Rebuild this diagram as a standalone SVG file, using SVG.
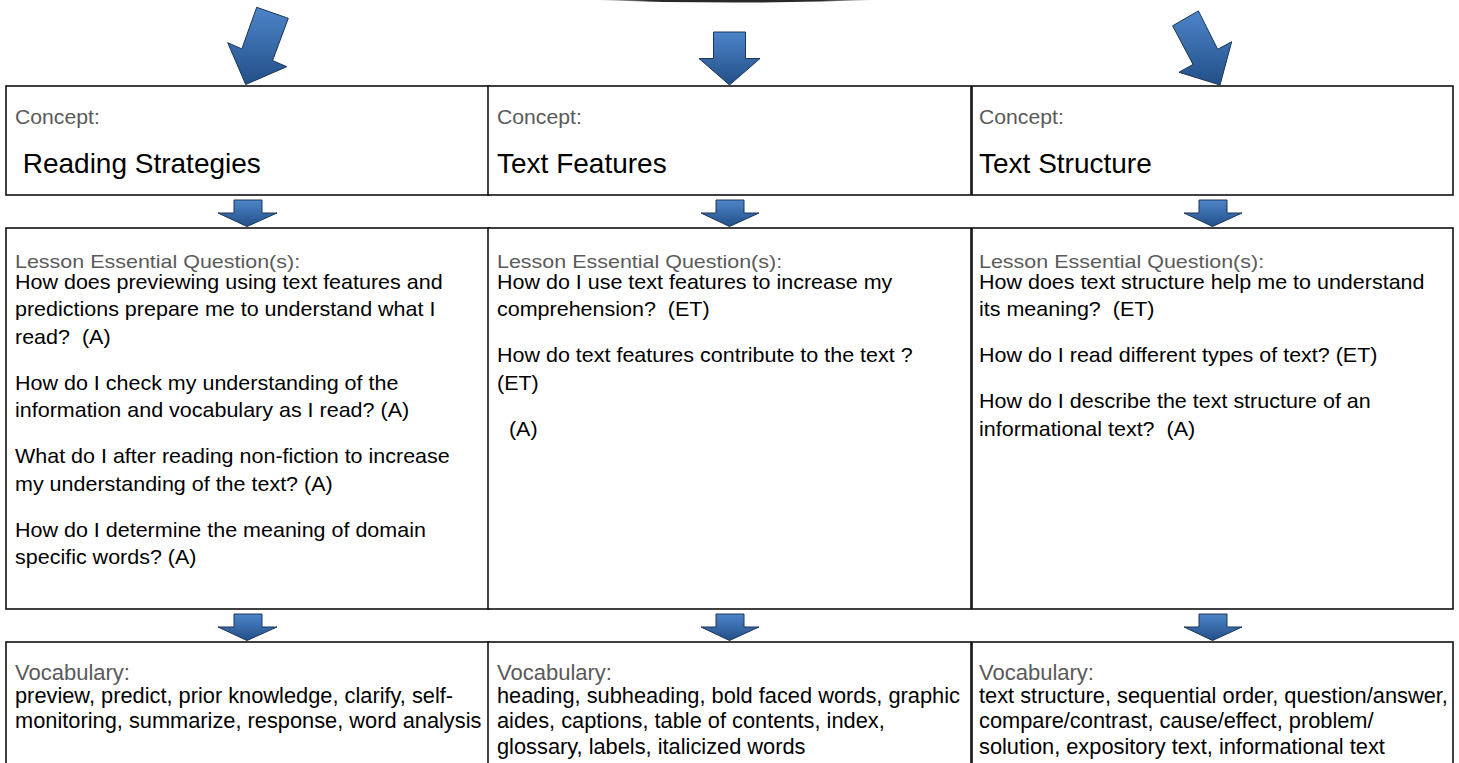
<svg xmlns="http://www.w3.org/2000/svg" width="1459" height="763" viewBox="0 0 1459 763" xml:space="preserve">
<defs>
<linearGradient id="ag" x1="0" y1="0" x2="0" y2="1">
<stop offset="0" stop-color="#4d85c9"/>
<stop offset="1" stop-color="#224f88"/>
</linearGradient>
<linearGradient id="sh" x1="0" y1="0" x2="1" y2="0">
<stop offset="0" stop-color="#000" stop-opacity="0"/>
<stop offset="0.2" stop-color="#111" stop-opacity="0.9"/>
<stop offset="0.8" stop-color="#111" stop-opacity="0.9"/>
<stop offset="1" stop-color="#000" stop-opacity="0"/>
</linearGradient>
</defs>
<style>
.box{fill:#fff;stroke:#111;stroke-width:1.6}
.arr{fill:url(#ag);stroke:#1b3556;stroke-width:1}
text{font-family:"Liberation Sans",Arial,sans-serif;white-space:pre}
.lab{fill:#5a5a5a;font-size:20px}
.ttl{fill:#000;font-size:28px}
.lq{fill:#5a5a5a;font-size:19px}
.bd{fill:#000;font-size:20px}
.vl{fill:#5a5a5a;font-size:22px}
.vb{fill:#000;font-size:21.8px}
</style>
<rect width="1459" height="763" fill="#fff"/>
<path d="M593,0 Q735,5 878,0 Z" fill="url(#sh)"/>

<g id="concept-reading">
<rect class="box" x="6" y="86" width="483" height="109"/>
<text class="lab" transform="translate(15,124) scale(1.06,1)">Concept:</text>
<text class="ttl" x="22.7" y="173">Reading Strategies</text>
</g>
<g id="concept-features">
<rect class="box" x="488" y="86" width="483" height="109"/>
<text class="lab" transform="translate(497,124) scale(1.06,1)">Concept:</text>
<text class="ttl" x="497" y="173">Text Features</text>
</g>
<g id="concept-structure">
<rect class="box" x="972" y="86" width="481" height="109"/>
<text class="lab" transform="translate(979,124) scale(1.06,1)">Concept:</text>
<text class="ttl" x="979" y="173">Text Structure</text>
</g>

<g id="questions-reading">
<rect class="box" x="6" y="228" width="483" height="381"/>
<text class="lq" transform="translate(15,268) scale(1.13,1)">Lesson Essential Question(s):</text>
<g transform="translate(15,0) scale(1.075,1)">
<text class="bd" x="0" y="289">How does previewing using text features and</text>
<text class="bd" x="0" y="316.5">predictions prepare me to understand what I</text>
<text class="bd" x="0" y="344">read?  (A)</text>
<text class="bd" x="0" y="390">How do I check my understanding of the</text>
<text class="bd" x="0" y="417.5">information and vocabulary as I read? (A)</text>
<text class="bd" x="0" y="463.5">What do I after reading non-fiction to increase</text>
<text class="bd" x="0" y="491">my understanding of the text? (A)</text>
<text class="bd" x="0" y="537">How do I determine the meaning of domain</text>
<text class="bd" x="0" y="564.5">specific words? (A)</text>
</g>
</g>
<g id="questions-features">
<rect class="box" x="488" y="228" width="483" height="381"/>
<text class="lq" transform="translate(497,268) scale(1.13,1)">Lesson Essential Question(s):</text>
<g transform="translate(497,0) scale(1.075,1)">
<text class="bd" x="0" y="289">How do I use text features to increase my</text>
<text class="bd" x="0" y="316.5">comprehension?  (ET)</text>
<text class="bd" x="0" y="362.5">How do text features contribute to the text ?</text>
<text class="bd" x="0" y="390">(ET)</text>
<text class="bd" x="0" y="436">  (A)</text>
</g>
</g>
<g id="questions-structure">
<rect class="box" x="972" y="228" width="481" height="381"/>
<text class="lq" transform="translate(979,268) scale(1.13,1)">Lesson Essential Question(s):</text>
<g transform="translate(979,0) scale(1.075,1)">
<text class="bd" x="0" y="289">How does text structure help me to understand</text>
<text class="bd" x="0" y="316.5">its meaning?  (ET)</text>
<text class="bd" x="0" y="362.5">How do I read different types of text? (ET)</text>
<text class="bd" x="0" y="408.5">How do I describe the text structure of an</text>
<text class="bd" x="0" y="436">informational text?  (A)</text>
</g>
</g>

<g id="vocab-reading">
<rect class="box" x="6" y="642" width="483" height="140"/>
<text class="vl" x="15" y="680">Vocabulary:</text>
<text class="vb" x="15" y="703">preview, predict, prior knowledge, clarify, self-</text>
<text class="vb" x="15" y="728.3">monitoring, summarize, response, word analysis</text>
</g>
<g id="vocab-features">
<rect class="box" x="488" y="642" width="483" height="140"/>
<text class="vl" x="497" y="680">Vocabulary:</text>
<text class="vb" x="497" y="703">heading, subheading, bold faced words, graphic</text>
<text class="vb" x="497" y="728.3">aides, captions, table of contents, index,</text>
<text class="vb" x="497" y="753.6">glossary, labels, italicized words</text>
</g>
<g id="vocab-structure">
<rect class="box" x="972" y="642" width="481" height="140"/>
<text class="vl" x="979" y="680">Vocabulary:</text>
<text class="vb" x="979" y="703">text structure, sequential order, question/answer,</text>
<text class="vb" x="979" y="728.3">compare/contrast, cause/effect, problem/</text>
<text class="vb" x="979" y="753.6">solution, expository text, informational text</text>
</g>

<g id="connectors">
<polygon class="arr" points="256.7,7.3 288.3,18.3 272.6,60.5 286.7,66.7 245.7,84.5 227.7,42.7 241.8,48.9"/>
<polygon class="arr" points="713.5,32 745.5,32 745.5,58.5 760,58.5 729.5,85 699,58.5 713.5,58.5"/>
<polygon class="arr" points="1172.6,25.8 1198.4,10.9 1217.7,49.3 1231.7,41.7 1220,85 1179,72.3 1193,64.4"/>
<polygon class="arr" points="234,200 262,200 262,213 277,213 247,226.5 218,213 234,213"/>
<polygon class="arr" points="716,200 744,200 744,213 759,213 729.5,226.5 701,213 716,213"/>
<polygon class="arr" points="1199,200 1227,200 1227,213 1242,213 1212.5,226.5 1184,213 1199,213"/>
<polygon class="arr" points="234,614 262,614 262,627 277,627 247,640.5 218,627 234,627"/>
<polygon class="arr" points="716,614 744,614 744,627 759,627 729.5,640.5 701,627 716,627"/>
<polygon class="arr" points="1199,614 1227,614 1227,627 1242,627 1212.5,640.5 1184,627 1199,627"/>
</g>
</svg>
